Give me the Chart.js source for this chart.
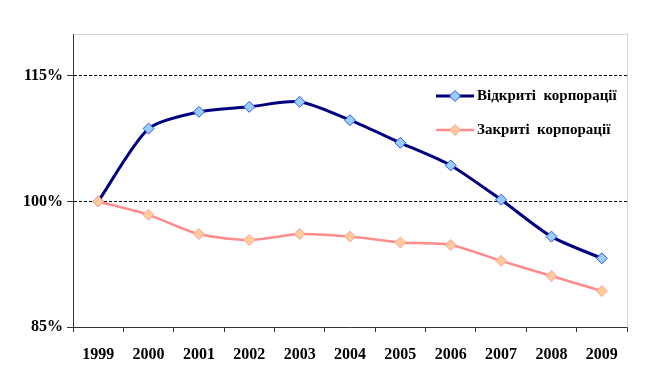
<!DOCTYPE html>
<html>
<head>
<meta charset="utf-8">
<script src="https://cdn.jsdelivr.net/npm/chart.js@4.4.1/dist/chart.umd.min.js"></script>
<style>
  html, body { margin: 0; padding: 0; background: #fff; }
  #wrap { width: 648px; height: 375px; }
</style>
</head>
<body>
<div id="wrap"><canvas id="corpChart" width="648" height="375"></canvas></div>
<script>
var years = ['1999', '2000', '2001', '2002', '2003', '2004', '2005', '2006', '2007', '2008', '2009'];
var openCorp = [100, 108.7, 110.7, 111.3, 111.9, 109.7, 107.0, 104.3, 100.2, 95.8, 93.2];
var closedCorp = [100, 98.4, 96.1, 95.4, 96.1, 95.8, 95.1, 94.8, 92.9, 91.1, 89.3];
var seriesNames = ['Відкриті  корпорації', 'Закриті  корпорації'];
var yTicks = [85, 100, 115];

var fontFamily = '"Liberation Serif", "Times New Roman", serif';

// legend drawn inside the plot area, like the original
var insideLegend = {
    id: 'insideLegend',
    afterDatasetsDraw: function (chart) {
        var ctx = chart.ctx;
        var area = chart.chartArea;
        var x0 = area.right - 191;
        var y0 = area.top + 62;
        chart.data.datasets.forEach(function (ds, i) {
            var y = y0 + i * 34;
            var r = ds.pointRadius;
            ctx.save();
            ctx.strokeStyle = ds.borderColor;
            ctx.lineWidth = ds.borderWidth;
            ctx.beginPath();
            ctx.moveTo(x0, y);
            ctx.lineTo(x0 + 38, y);
            ctx.stroke();
            ctx.fillStyle = ds.pointBackgroundColor;
            ctx.strokeStyle = ds.pointBorderColor;
            ctx.lineWidth = ds.pointBorderWidth;
            ctx.beginPath();
            ctx.moveTo(x0 + 19, y - r);
            ctx.lineTo(x0 + 19 + r, y);
            ctx.lineTo(x0 + 19, y + r);
            ctx.lineTo(x0 + 19 - r, y);
            ctx.closePath();
            ctx.fill();
            ctx.stroke();
            ctx.fillStyle = '#000';
            ctx.font = 'bold 15px ' + fontFamily;
            ctx.textAlign = 'left';
            ctx.textBaseline = 'middle';
            ctx.fillText(ds.label, x0 + 41, y);
            ctx.restore();
        });
    }
};

// light dotted frame on top and right of the plot area
var plotFrame = {
    id: 'plotFrame',
    beforeDatasetsDraw: function (chart) {
        var ctx = chart.ctx;
        var a = chart.chartArea;
        ctx.save();
        ctx.strokeStyle = '#a8a8a8';
        ctx.lineWidth = 1;
        ctx.setLineDash([1, 1]);
        ctx.beginPath();
        ctx.moveTo(Math.round(a.left) + 0.5, Math.round(a.top) + 0.5);
        ctx.lineTo(Math.round(a.right) + 0.5, Math.round(a.top) + 0.5);
        ctx.lineTo(Math.round(a.right) + 0.5, Math.round(a.bottom) + 0.5);
        ctx.stroke();
        ctx.restore();
    }
};

var ctx = document.getElementById('corpChart').getContext('2d');
var corpChart = new Chart(ctx, {
    type: 'line',
    data: {
        labels: years,
        datasets: [{
            label: seriesNames[0],
            data: openCorp,
            borderColor: '#000080',
            borderWidth: 3,
            pointStyle: 'rectRot',
            pointRadius: 5.5,
            pointBackgroundColor: '#99ccff',
            pointBorderColor: '#3355dd',
            pointBorderWidth: 1,
            tension: 0.25,
            order: 1
        }, {
            label: seriesNames[1],
            data: closedCorp,
            borderColor: '#ff8c8c',
            borderWidth: 2.5,
            pointStyle: 'rectRot',
            pointRadius: 5.5,
            pointBackgroundColor: '#ffcc99',
            pointBorderColor: '#ffa0a0',
            pointBorderWidth: 1,
            tension: 0.25,
            order: 0
        }]
    },
    options: {
        responsive: false,
        animation: false,
        layout: {
            padding: { left: 0, right: 21, top: 34, bottom: 0 }
        },
        plugins: {
            legend: { display: false },
            tooltip: { enabled: false }
        },
        scales: {
            x: {
                offset: true,
                afterFit: function (scale) { scale.height = 48; },
                grid: {
                    offset: true,
                    drawOnChartArea: false,
                    tickLength: 5,
                    tickColor: '#333'
                },
                border: { color: '#333', width: 1 },
                ticks: {
                    color: '#000',
                    padding: 13,
                    maxRotation: 0,
                    font: { family: fontFamily, size: 16, weight: 'bold' }
                }
            },
            y: {
                min: 85,
                max: 120,
                afterFit: function (scale) { scale.width = 73; },
                afterBuildTicks: function (scale) {
                    scale.ticks = yTicks.map(function (v) { return { value: v }; });
                },
                grid: {
                    color: function (c) {
                        return c.tick && c.tick.value === 85 ? 'rgba(0,0,0,0)' : '#000';
                    },
                    lineWidth: 1,
                    tickLength: 6,
                    tickColor: '#333'
                },
                border: { color: '#333', width: 1, dash: [3, 2] },
                ticks: {
                    color: '#000',
                    padding: 4,
                    font: { family: fontFamily, size: 16, weight: 'bold' },
                    callback: function (v) { return v + '%'; }
                }
            }
        }
    },
    plugins: [plotFrame, insideLegend]
});
</script>
</body>
</html>
